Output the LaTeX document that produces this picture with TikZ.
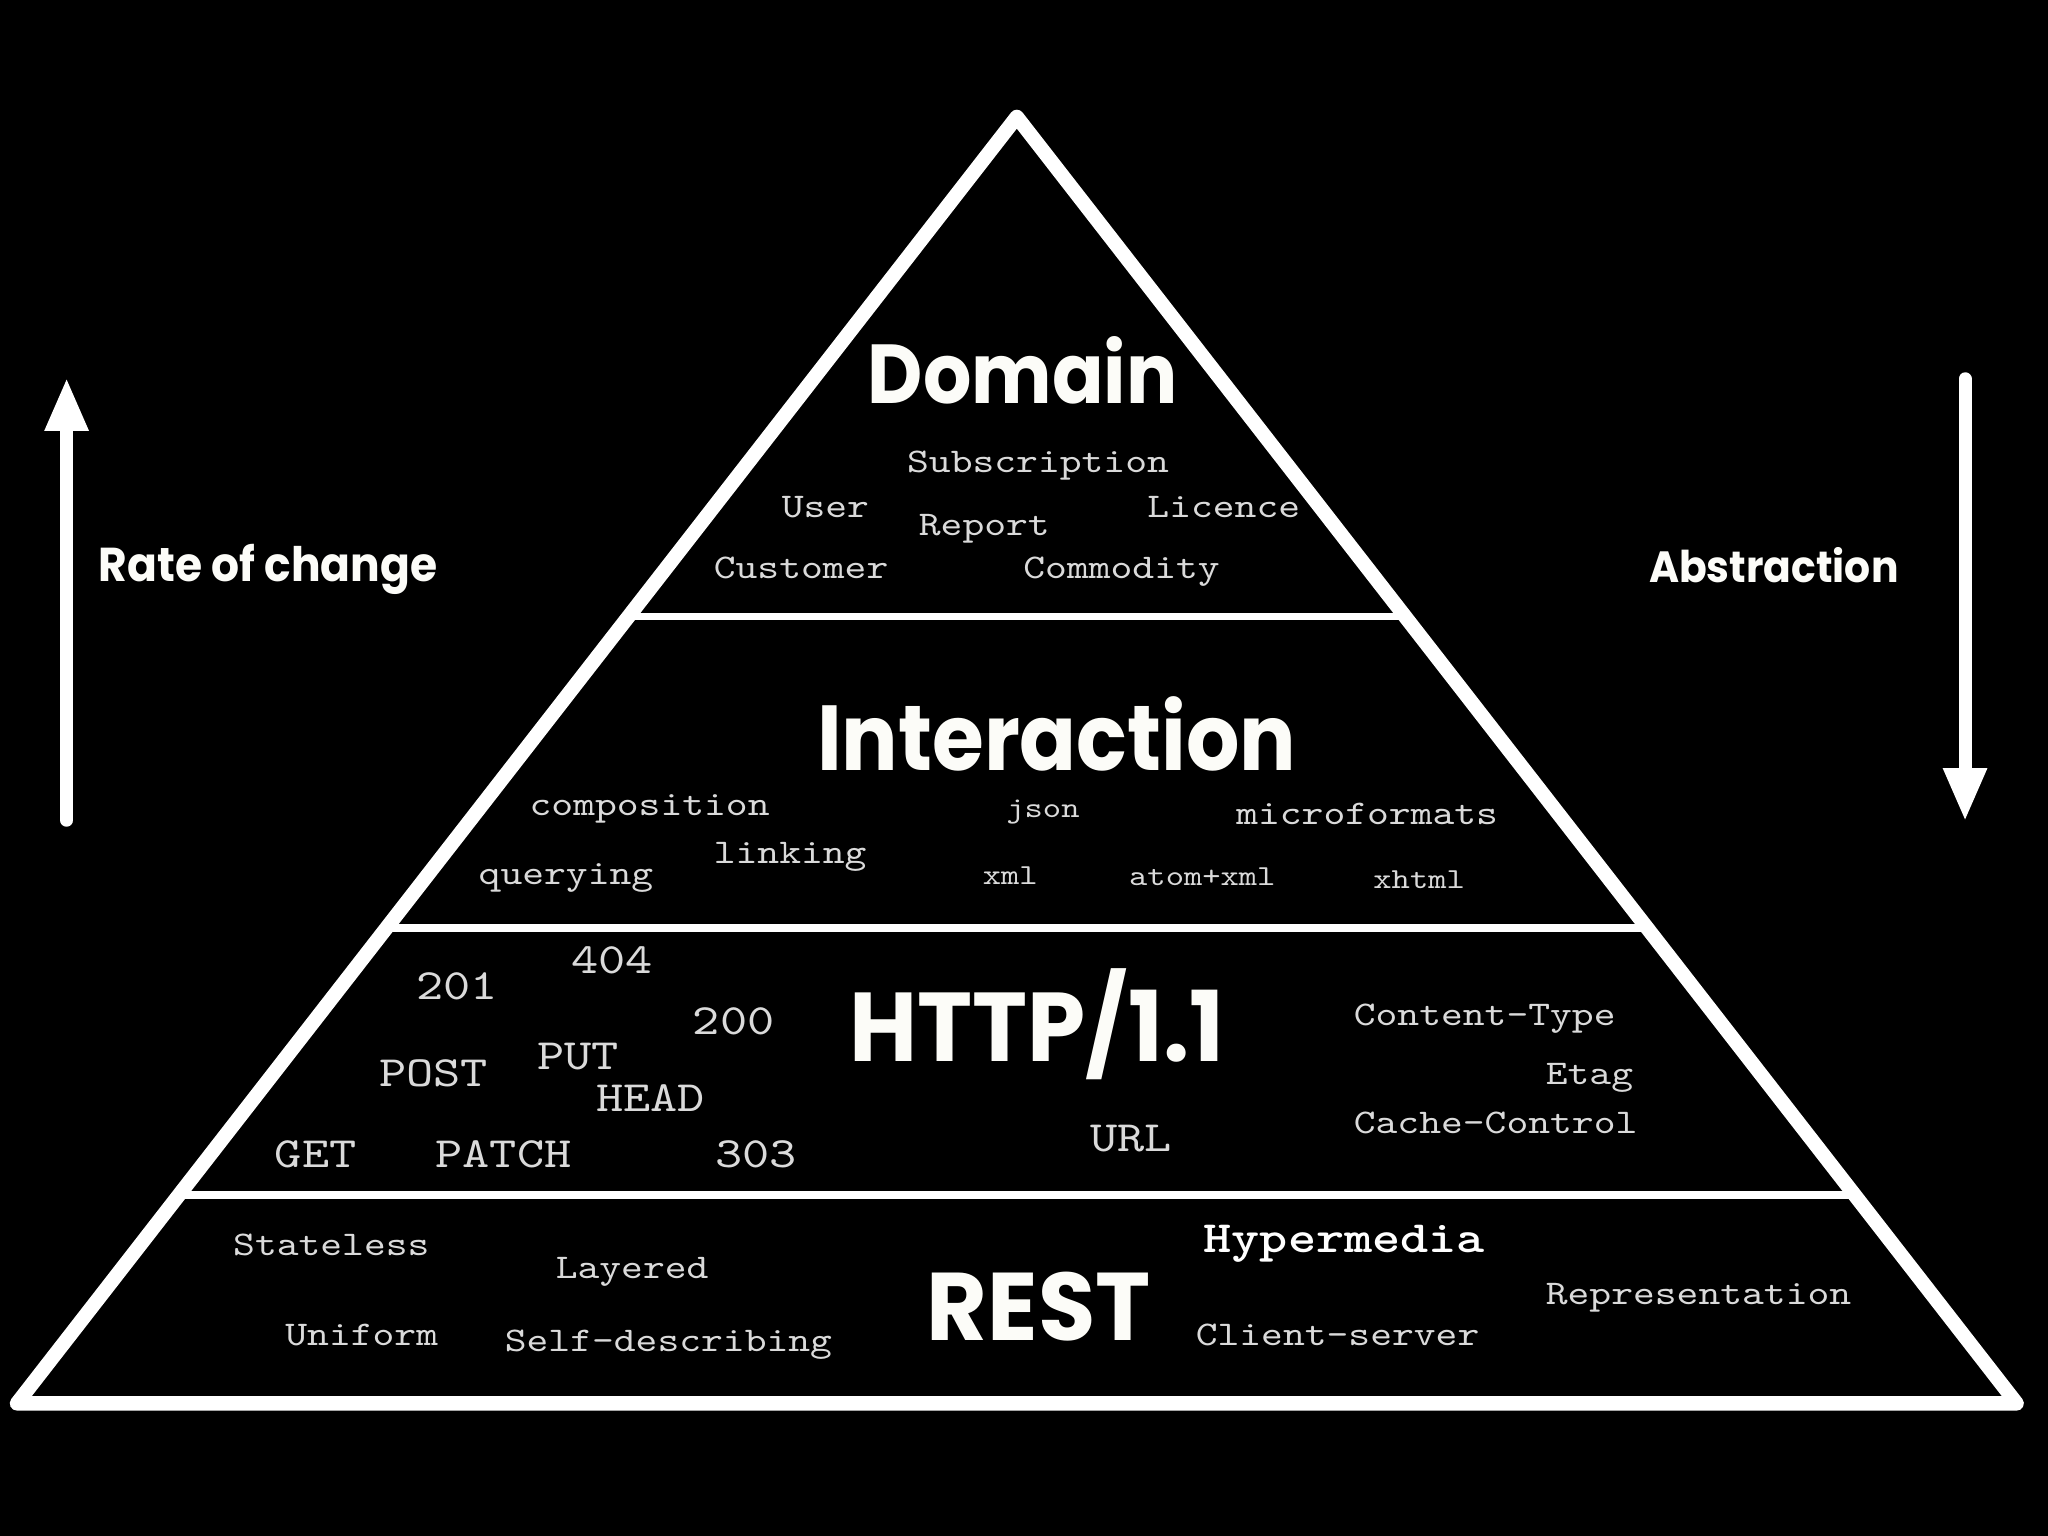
\documentclass[tikz,border=0pt]{standalone}
\usepackage{fontspec}
\usetikzlibrary{arrows.meta,calc}
\newfontfamily\headfont{Poppins}
\newfontfamily\monof{lmmono10-regular.otf}[FakeStretch=1.2]
\newfontfamily\monobf{lmmonolt10-bold.otf}[FakeStretch=1.2]
\definecolor{txtgrey}{RGB}{218,218,218}
\definecolor{headwhite}{RGB}{252,252,248}
\newcommand{\headw}[3]{\scalebox{1}[#3]{\resizebox{#1}{!}{\headfont\bfseries #2}}}
\begin{document}
\begin{tikzpicture}[x=0.013061cm,y=-0.013061cm,
  mono/.style={anchor=base west,inner sep=0pt,text=txtgrey,font=\monof\fontsize{9.85pt}{12pt}\selectfont},
  monosmall/.style={mono,font=\monof\fontsize{8.26pt}{10pt}\selectfont},
  monobig/.style={mono,font=\monof\fontsize{12.27pt}{14pt}\selectfont},
  monobold/.style={mono,text=white,font=\monobf\fontsize{12.7pt}{14pt}\selectfont},
  heading/.style={anchor=base west,inner sep=0pt,text=headwhite},
  pyredge/.style={draw=white,line width=4.1pt,line join=round},
  layerline/.style={draw=white,line width=2.2pt},
  bigarrow/.style={draw=white,line width=3.7pt,line cap=round,-{Triangle[length=15.2pt,width=11.5pt]}}]
\fill[black] (0,0) rectangle (1568,1176);
\useasboundingbox (0,0) rectangle (1568,1176);

% pyramid
\coordinate (T) at (778.5,89.5);
\coordinate (BL) at (13,1074.5);
\coordinate (BR) at (1544,1074.5);
\draw[layerline] ($(T)!0.3883!(BL)$) -- ($(T)!0.3883!(BR)$);
\draw[layerline] ($(T)!0.6306!(BL)$) -- ($(T)!0.6306!(BR)$);
\draw[layerline] ($(T)!0.8381!(BL)$) -- ($(T)!0.8381!(BR)$);
\draw[pyredge] (T) -- (BR) -- (BL) -- cycle;

% side arrows
\coordinate (lt) at (51,628);
\coordinate (lh) at (51,289);
\draw[bigarrow] (lt) -- (lh);
\coordinate (rt) at (1504.5,290);
\coordinate (rh) at (1504.5,629);
\draw[bigarrow] (rt) -- (rh);
\node[heading] (rate) at (75,445.5) {\headw{96.4pt}{Rate of change}{1.08}};
\node[heading] (abstr) at (1262,445.6) {\headw{71pt}{Abstraction}{1.07}};

% headings
\node[heading] (domain) at (664,308.6) {\headw{88.07pt}{Domain}{1.1}};
\node[heading] (interaction) at (625,589.6) {\headw{136.4pt}{Interaction}{1.1}};
\node[heading] (http) at (650,813) {\headw{106.6pt}{HTTP/1.1}{1.05}};
\node[heading] (rest) at (709,1026) {\headw{63.7pt}{REST}{1.03}};

% domain words
\node[mono] (subscription) at (694,362) {Subscription};
\node[mono] (user) at (598,396) {User};
\node[mono] (report) at (703,410) {Report};
\node[mono] (licence) at (878,396) {Licence};
\node[mono] (customer) at (546,443) {Customer};
\node[mono] (commodity) at (783,443) {Commodity};

% interaction words
\node[mono] (composition) at (405,624) {composition};
\node[monosmall] (json) at (770,626) {json};
\node[mono] (microformats) at (946,631) {microformats};
\node[mono] (querying) at (366,677) {querying};
\node[mono] (linking) at (546,661) {linking};
\node[monosmall] (xml) at (752,677) {xml};
\node[monosmall] (atomxml) at (864,678) {atom+xml};
\node[monosmall] (xhtml) at (1051,680) {xhtml};

% http words
\node[monobig] (c201) at (318,765) {201};
\node[monobig] (c404) at (437,745) {404};
\node[monobig] (c200) at (530,792) {200};
\node[monobig] (post) at (290,831.5) {POST};
\node[monobig] (put) at (411,819) {PUT};
\node[monobig] (head) at (456,851) {HEAD};
\node[monobig] (get) at (210,893.5) {GET};
\node[monobig] (patch) at (333,893.5) {PATCH};
\node[monobig] (c303) at (547,893.5) {303};
\node[monobig] (url) at (834,882) {URL};
\node[mono] (ctype) at (1036,785.5) {Content-Type};
\node[mono] (etag) at (1183,830) {Etag};
\node[mono] (cache) at (1036,867.6) {Cache-Control};

% rest words
\node[mono] (stateless) at (178,961) {Stateless};
\node[mono] (layered) at (425,978.5) {Layered};
\node[monobold] (hypermedia) at (921,958.6) {Hypermedia};
\node[mono] (representation) at (1183,999) {Representation};
\node[mono] (uniform) at (218,1030) {Uniform};
\node[mono] (selfdesc) at (386,1035) {Self-describing};
\node[mono] (clientserver) at (915,1030) {Client-server};
\end{tikzpicture}
\end{document}
